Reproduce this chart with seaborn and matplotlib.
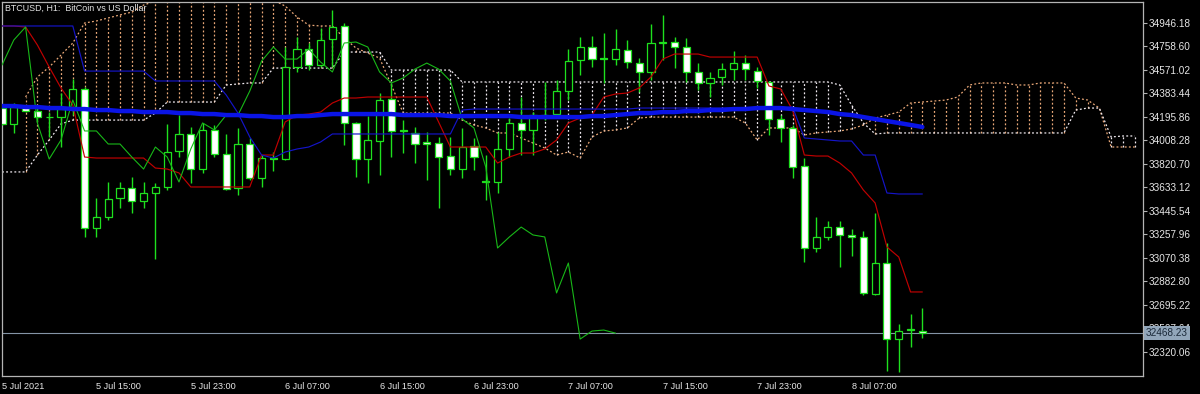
import numpy as np
import pandas as pd
import matplotlib
matplotlib.use("Agg")
import matplotlib.pyplot as plt
import matplotlib.transforms as mtransforms
import seaborn as sns

# ---------------- data ----------------
title = "BTCUSD, H1:  BitCoin vs US Dollar"

opens = [34265, 34138, 34273, 34241, 34195, 34193, 34273, 34417, 33307, 33395,
         33547, 33627, 33523, 33587, 33635, 33922, 34058, 33778, 34090, 33898,
         33627, 33978, 33707, 33866, 33858, 34592, 34736, 34608, 34816, 34920,
         34146, 33858, 34002, 34337, 34090, 34066, 33994, 33986, 33882, 33778,
         33962, 33683, 33675, 33938, 34146, 34090, 34201, 34217, 34401, 34648,
         34752, 34664, 34656, 34728, 34624, 34553, 34784, 34792, 34752, 34553,
         34465, 34513, 34576, 34624, 34560, 34473, 34177, 34106, 33802, 33148,
         33236, 33315, 33252, 33236, 32781, 33028, 32421, 32501, 32485]
highs = [34289, 34305, 34289, 34265, 34233, 34385, 34497, 34433, 33547, 33675,
         33675, 33715, 33675, 33667, 34138, 34209, 34114, 34146, 34130, 34058,
         34106, 34026, 33890, 33914, 34752, 34832, 34784, 34904, 35047, 34944,
         34154, 34201, 34385, 34465, 34169, 34114, 34074, 34034, 34034, 34106,
         34026, 33890, 34074, 34185, 34353, 34233, 34473, 34489, 34736, 34832,
         34840, 34864, 34896, 34808, 34664, 34936, 35008, 34832, 34824, 34624,
         34553, 34624, 34720, 34688, 34592, 34481, 34209, 34130, 33866, 33395,
         33363, 33363, 33299, 33284, 33427, 33188, 32541, 32621, 32669]
lows = [34130, 34066, 34233, 34154, 34034, 33954, 34209, 33236, 33236, 33371,
        33467, 33427, 33467, 33060, 33611, 33874, 33667, 33747, 33874, 33611,
        33571, 33691, 33635, 33762, 33850, 34553, 34568, 34592, 34592, 33970,
        33715, 33667, 33731, 33874, 33906, 33826, 33691, 33467, 33731, 33707,
        33770, 33531, 33587, 33874, 33890, 33890, 34169, 34185, 34329, 34529,
        34592, 34465, 34608, 34584, 34393, 34489, 34648, 34584, 34473, 34409,
        34353, 34449, 34489, 34489, 34425, 34050, 33994, 33707, 33036, 33116,
        33212, 32996, 33084, 32773, 32773, 32166, 32158, 32357, 32429]
closes = [34138, 34273, 34241, 34193, 34193, 34257, 34417, 33307, 33395, 33539,
          33627, 33523, 33587, 33635, 33914, 34058, 33778, 34090, 33898, 33619,
          33978, 33707, 33866, 33858, 34592, 34736, 34608, 34808, 34912, 34146,
          33858, 34010, 34329, 34082, 34082, 33978, 33978, 33874, 33778, 33954,
          33874, 33675, 33938, 34146, 34090, 34209, 34209, 34401, 34640, 34752,
          34656, 34656, 34736, 34632, 34553, 34784, 34792, 34752, 34553, 34465,
          34505, 34576, 34624, 34576, 34481, 34177, 34106, 33794, 33148, 33236,
          33315, 33252, 33236, 32789, 33028, 32421, 32485, 32493, 32468.23]

tenkan = [34920, 34920, 34912, 34768, 34592, 34425, 34289, 33874, 33866, 33866,
          33866, 33866, 33866, 33786, 33778, 33747, 33635, 33635, 33635, 33635,
          33635, 33635, 33890, 33890, 34154, 34209, 34217, 34233, 34305, 34345,
          34345, 34353, 34353, 34353, 34353, 34353, 34353, 34154, 33954, 33954,
          33954, 33954, 33826, 33874, 33906, 33906, 33938, 34010, 34146, 34185,
          34209, 34353, 34377, 34385, 34425, 34513, 34656, 34696, 34696, 34696,
          34672, 34672, 34672, 34672, 34672, 34441, 34417, 34249, 33890, 33882,
          33882, 33826, 33747, 33611, 33507, 33156, 33076, 32797, 32797]
kijun = [34920, 34920, 34920, 34920, 34920, 34920, 34920, 34560, 34560, 34560,
         34560, 34560, 34560, 34481, 34481, 34481, 34481, 34481, 34481, 34369,
         34225, 34034, 33890, 33866, 33914, 33938, 33954, 33994, 34058, 34058,
         34058, 34058, 34058, 34058, 34058, 34058, 34058, 34058, 34058, 34249,
         34257, 34257, 34257, 34257, 34257, 34257, 34257, 34257, 34257, 34257,
         34257, 34257, 34257, 34257, 34265, 34265, 34265, 34265, 34265, 34265,
         34265, 34265, 34265, 34265, 34265, 34265, 34265, 34273, 34026, 34018,
         34010, 34002, 34002, 33890, 33890, 33587, 33579, 33579, 33579]
span_a = [np.nan, np.nan, 34353, 34513, 34592, 34688, 34784, 34944, 34960, 34984,
          35008, 35031, 35087, 35119, 35159, 35175, 35191, 35191, 35191, 35191,
          35175, 35159, 35143, 35127, 35079, 34992, 34927, 34920, 34920, 34824,
          34744, 34704, 34664, 34449, 34225, 34225, 34225, 34225, 34225, 34169,
          34130, 34106, 34066, 34066, 34026, 33986, 33946, 33890, 33914, 33866,
          34034, 34082, 34090, 34106, 34185, 34193, 34193, 34193, 34193, 34193,
          34193, 34193, 34193, 34146, 34010, 34106, 34106, 34106, 34050, 34066,
          34074, 34082, 34098, 34130, 34185, 34209, 34233, 34305, 34313, 34321,
          34329, 34353, 34449, 34465, 34465, 34465, 34449, 34449, 34465, 34465,
          34465, 34345, 34329, 34265, 33954, 33954, 33954]
span_b = [33755, 33755, 33755, 33890, 34010, 34138, 34169, 34169, 34169, 34169,
          34169, 34169, 34169, 34225, 34313, 34313, 34313, 34313, 34313, 34449,
          34457, 34465, 34465, 34584, 34584, 34584, 34584, 34584, 34584, 34712,
          34712, 34712, 34712, 34568, 34568, 34568, 34568, 34568, 34568, 34473,
          34473, 34473, 34473, 34473, 34473, 34473, 34473, 34473, 34473, 34473,
          34473, 34473, 34473, 34473, 34473, 34473, 34473, 34473, 34473, 34473,
          34473, 34473, 34473, 34473, 34473, 34473, 34473, 34473, 34473, 34473,
          34473, 34449, 34289, 34146, 34058, 34066, 34066, 34066, 34066, 34066,
          34066, 34066, 34066, 34066, 34066, 34066, 34066, 34066, 34066, 34066,
          34066, 34249, 34265, 34265, 34034, 34042, 34042]
moving_avg = [34281, 34281, 34273, 34273, 34265, 34265, 34257, 34257, 34249, 34249,
              34241, 34241, 34233, 34233, 34233, 34225, 34225, 34217, 34217, 34209,
              34209, 34201, 34201, 34193, 34193, 34201, 34201, 34209, 34217, 34217,
              34217, 34217, 34217, 34217, 34209, 34209, 34209, 34209, 34201, 34201,
              34201, 34201, 34201, 34201, 34193, 34193, 34193, 34193, 34193, 34193,
              34201, 34201, 34209, 34217, 34225, 34225, 34233, 34233, 34241, 34241,
              34249, 34249, 34257, 34257, 34265, 34265, 34265, 34257, 34249, 34241,
              34233, 34217, 34209, 34193, 34177, 34161, 34146, 34130, 34114]
chikou_shift = 26

price_ticks = [34946.18, 34758.60, 34571.02, 34383.44, 34195.86, 34008.28, 33820.70,
               33633.12, 33445.54, 33257.96, 33070.38, 32882.80, 32695.22, 32507.64,
               32320.06]
price_tick_labels = ["34946.18", "34758.60", "34571.02", "34383.44", "34195.86",
                     "34008.28", "33820.70", "33633.12", "33445.54", "33257.96",
                     "33070.38", "32882.80", "32695.22", "32507.64", "32320.06"]
time_tick_bars = [0, 8, 16, 24, 32, 40, 48, 56, 64, 72]
time_tick_labels = ["5 Jul 2021", "5 Jul 15:00", "5 Jul 23:00", "6 Jul 07:00",
                    "6 Jul 15:00", "6 Jul 23:00", "7 Jul 07:00", "7 Jul 15:00",
                    "7 Jul 23:00", "8 Jul 07:00"]
last_price = 32468.23
last_price_label = "32468.23"

# ---------------- style ----------------
sns.set_style("dark", {"axes.facecolor": "black", "figure.facecolor": "black"})
plt.rcParams["font.family"] = ["Liberation Sans", "DejaVu Sans"]

LIME = "#1ee01e"
SANDY = "#eaa878"
THISTLE = "#f0eaf0"
TXT = "#e6e6e6"
FRAME = "#b4b4b4"
DOT = (0, (1.5, 1.8))

bars = pd.DataFrame({"bar": np.arange(len(closes)), "open": opens, "high": highs,
                     "low": lows, "close": closes, "tenkan": tenkan, "kijun": kijun,
                     "ma": moving_avg})
cloud = pd.DataFrame({"bar": np.arange(len(span_a)), "a": span_a, "b": span_b})
chikou = pd.DataFrame({"bar": bars["bar"].iloc[chikou_shift:].values - chikou_shift,
                       "value": bars["close"].iloc[chikou_shift:].values})

fig = plt.figure(figsize=(12, 3.94), dpi=100, facecolor="black")
ax = fig.add_axes([2 / 1200, 1 - 376 / 394, 1141 / 1200, 374 / 394])
ax.set_facecolor("black")
ax.grid(False)

# Ichimoku cloud hatching
cl = cloud.dropna()
hatch_colors = np.where(cl["a"] >= cl["b"], SANDY, THISTLE)
ax.vlines(cl["bar"], cl[["a", "b"]].min(axis=1), cl[["a", "b"]].max(axis=1),
          colors=list(hatch_colors), linestyles=[DOT], lw=0.9, zorder=1)
sns.lineplot(data=cl, x="bar", y="a", ax=ax, color=SANDY, lw=0.9, linestyle=DOT,
             estimator=None, sort=False, legend=False, zorder=1.2)
sns.lineplot(data=cloud, x="bar", y="b", ax=ax, color=THISTLE, lw=0.9, linestyle=DOT,
             estimator=None, sort=False, legend=False, zorder=1.2)

# current price line
ax.axhline(last_price, color="#8494a6", lw=0.8, zorder=1.5)

# candles
up = bars["close"] >= bars["open"]
ax.vlines(bars["bar"], bars["low"], bars["high"], colors=LIME, lw=1.0, zorder=3)
ax.bar(bars["bar"], bars["close"] - bars["open"], bottom=bars["open"], width=0.6,
       color=np.where(up, "black", "white"), edgecolor=LIME, linewidth=0.9, zorder=4)

# indicator lines
sns.lineplot(data=bars, x="bar", y="tenkan", ax=ax, color="#c00000", lw=0.85,
             estimator=None, sort=False, legend=False, zorder=5)
sns.lineplot(data=bars, x="bar", y="kijun", ax=ax, color="#1414c8", lw=0.85,
             estimator=None, sort=False, legend=False, zorder=5)
sns.lineplot(data=chikou, x="bar", y="value", ax=ax, color="#18b818", lw=0.8,
             estimator=None, sort=False, legend=False, zorder=5)
sns.lineplot(data=bars, x="bar", y="ma", ax=ax, color="#0a14e6", lw=3.2,
             estimator=None, sort=False, legend=False, zorder=6)

# axes limits
ax.set_xlim(0, 96.7)
ax.set_ylim(32126.2, 35111.4)
ax.set_xlabel("")
ax.set_ylabel("")

# y axis on the right
ax.yaxis.tick_right()
ax.set_yticks(price_ticks)
ax.set_yticklabels(price_tick_labels)
ax.tick_params(axis="y", which="both", direction="out", length=3, width=0.8,
               color=FRAME, labelcolor=TXT, labelsize=7.2, pad=1, left=False, right=True)
ax.set_xticks(time_tick_bars)
ax.set_xticklabels(time_tick_labels, ha="left")
ax.tick_params(axis="x", which="both", direction="out", length=3, width=0.8,
               color=FRAME, labelcolor=TXT, labelsize=6.6, pad=1.5)

for s in ax.spines.values():
    s.set_color(FRAME)
    s.set_linewidth(0.9)
    s.set_visible(True)

# last price label box on the price scale
trans = mtransforms.blended_transform_factory(ax.transAxes, ax.transData)
ax.text(1.0 + 3 / 1141, last_price, last_price_label, transform=trans, ha="left",
        va="center", fontsize=7.2, color="#1a2838", clip_on=False, zorder=20,
        bbox=dict(facecolor="#92a6ba", edgecolor="none", pad=1.2))

fig.text(5 / 1200, 1 - 8 / 394, title, ha="left", va="center", fontsize=6.4,
         color=TXT)

fig.savefig("out.png", dpi=100, facecolor="black")
